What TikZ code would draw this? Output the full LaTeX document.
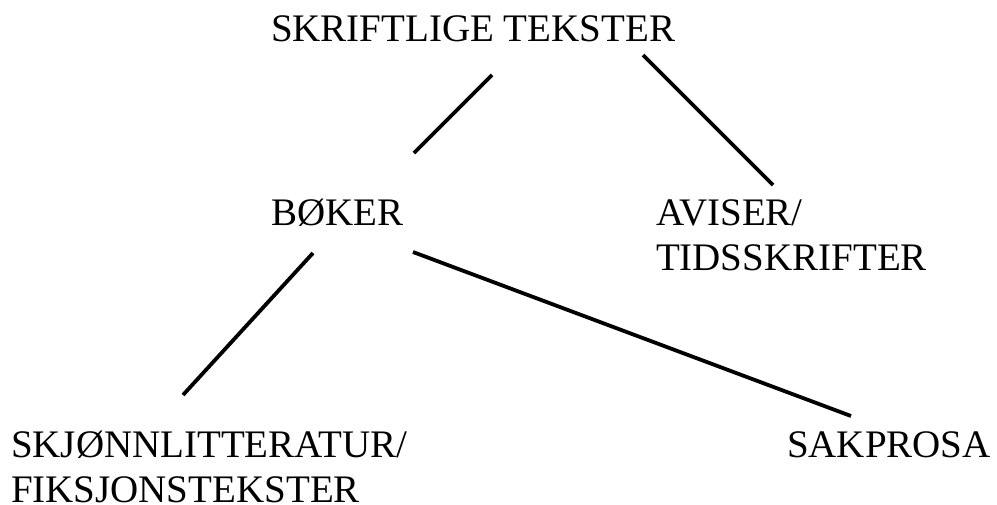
\documentclass[tikz,border=0pt]{standalone}
\usepackage{fontspec}
\setmainfont{Liberation Serif}
\usetikzlibrary{calc}
\begin{document}
\begin{tikzpicture}[x=1pt,y=-1pt,
  label text/.style={inner sep=0pt,outer sep=0pt,anchor=base west,align=left,
    font=\fontsize{39}{45}\selectfont},
  branch/.style={line width=3.8pt,black}]
\useasboundingbox (0,0) rectangle (997,504);
% category labels (base anchors sit on the last line of each label)
\node[label text] (top) at (271,41) {SKRIFTLIGE TEKSTER};
\node[label text] (bok) at (271,225) {BØKER};
\node[label text] (avis) at (656,270) {AVISER/\\TIDSSKRIFTER};
\node[label text] (skj) at (11,502) {SKJØNNLITTERATUR/\\FIKSJONSTEKSTER};
\node[label text] (sak) at (787,457) {SAKPROSA};
% branches of the tree
\draw[branch] ([shift={(221,34)}]top.base west) -- ([shift={(143,-72)}]bok.base west);
\draw[branch] ([shift={(372,14)}]top.base west) -- ([shift={(117,-85)}]avis.base west);
\draw[branch] ([shift={(42,28)}]bok.base west) -- ([shift={(172,-107)}]skj.base west);
\draw[branch] ([shift={(142,27)}]bok.base west) -- ([shift={(64,-41)}]sak.base west);
\end{tikzpicture}
\end{document}
